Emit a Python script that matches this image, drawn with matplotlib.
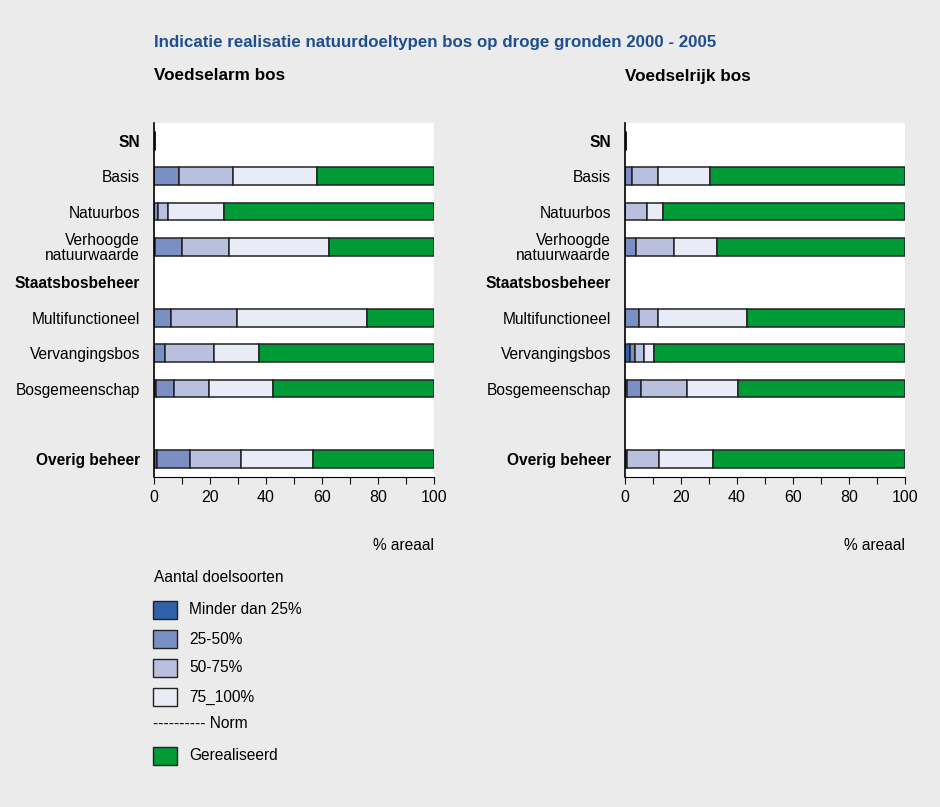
import numpy as np
import matplotlib
matplotlib.use('Agg')
import matplotlib.pyplot as plt
from matplotlib.patches import Rectangle

plt.rcParams['font.family'] = ['Liberation Sans Narrow', 'Liberation Sans', 'DejaVu Sans']

# Data (% areaal)
rows = ['SN', 'Basis', 'Natuurbos', 'Verhoogde\nnatuurwaarde', 'Staatsbosbeheer',
        'Multifunctioneel', 'Vervangingsbos', 'Bosgemeenschap', '', 'Overig beheer']
bold_rows = ['SN', 'Staatsbosbeheer', 'Overig beheer']
bar_rows = [0, 1, 2, 3, 5, 6, 7, 9]   # rows that carry a bar

categories = ['Minder dan 25%', '25-50%', '50-75%', '75_100%', 'Gerealiseerd']

# Voedselarm bos
arm_lt25 = [0.3, 0, 0, 0.5, 0, 0, 0.8, 1.2]
arm_25_50 = [0, 9.0, 1.5, 9.4, 6.1, 4.0, 6.3, 11.7]
arm_50_75 = [0, 19.1, 3.4, 17.0, 23.4, 17.3, 12.7, 18.2]
arm_75_100 = [0, 30.0, 20.2, 35.6, 46.7, 16.2, 22.8, 25.8]
arm_real = [0, 41.9, 74.9, 37.5, 23.8, 62.5, 57.4, 43.1]

# Voedselrijk bos
rijk_lt25 = [0.3, 0, 0, 0, 0, 1.8, 0.8, 0.6]
rijk_25_50 = [0, 2.5, 0, 4.0, 4.9, 1.7, 4.8, 0]
rijk_50_75 = [0, 9.2, 8.0, 13.4, 7.0, 3.3, 16.4, 11.5]
rijk_75_100 = [0, 18.5, 5.6, 15.3, 31.8, 3.4, 18.5, 19.3]
rijk_real = [0, 69.8, 86.4, 67.3, 56.3, 89.8, 59.5, 68.6]

colors = ['#2f62a8', '#7a8fc4', '#b9c0df', '#e9ecf6', '#009a36']
bg = '#ebebeb'
edge = '#222222'
fs = 11.2

fig = plt.figure(figsize=(9.4, 8.07), dpi=100, facecolor=bg)


def draw_panel(left, series, subtitle):
    ax = fig.add_axes([left / 940, 1 - 477 / 807, 280 / 940, 354 / 807])
    ax.set_facecolor('white')
    base = np.zeros(len(bar_rows))
    for vals, col in zip(series, colors):
        vals = np.array(vals)
        ax.barh(bar_rows, vals, left=base, height=0.5, color=col,
                edgecolor=edge, linewidth=1.1)
        base = base + vals
    ax.set_ylim(9.5, -0.5)
    ax.set_xlim(0, 100)
    ax.set_yticks(range(len(rows)))
    ax.set_yticklabels(rows, fontsize=fs, linespacing=0.95)
    for lbl in ax.get_yticklabels():
        if lbl.get_text() in bold_rows:
            lbl.set_fontweight('bold')
    ax.tick_params(axis='y', length=0, pad=10)
    ax.set_xticks(range(0, 101, 20))
    ax.set_xticks(range(10, 100, 20), minor=True)
    ax.tick_params(axis='x', which='both', direction='out', length=5,
                   width=0.8, labelsize=fs + 0.3, pad=4)
    for s in ['top', 'right']:
        ax.spines[s].set_visible(False)
    ax.spines['left'].set_linewidth(1.2)
    ax.spines['bottom'].set_linewidth(0.8)
    fig.text((left + 280) / 940, 1 - 545 / 807, '% areaal', ha='right',
             va='center', fontsize=fs)
    fig.text(left / 940, 1 - 76 / 807, subtitle, ha='left', va='center',
             fontsize=12.3, fontweight='bold')
    return ax


draw_panel(154, [arm_lt25, arm_25_50, arm_50_75, arm_75_100, arm_real], 'Voedselarm bos')
draw_panel(625, [rijk_lt25, rijk_25_50, rijk_50_75, rijk_75_100, rijk_real], 'Voedselrijk bos')

fig.text(154 / 940, 1 - 42 / 807,
         'Indicatie realisatie natuurdoeltypen bos op droge gronden 2000 - 2005',
         ha='left', va='center', fontsize=12.2, fontweight='bold', color='#1f4f8f')

# Legend
fig.text(154 / 940, 1 - 577 / 807, 'Aantal doelsoorten', ha='left', va='center', fontsize=fs)
legend_y = [610, 639, 668, 697, None, 756]
legend_items = categories[:4] + ['Norm'] + categories[4:]
ci = 0
for y, name in zip(legend_y, legend_items):
    if y is None:
        fig.text(153 / 940, 1 - 723 / 807, '---------- Norm', ha='left', va='center',
                 fontsize=fs)
        continue
    fig.add_artist(Rectangle((153 / 940, 1 - (y + 9) / 807), 24 / 940, 18 / 807,
                             transform=fig.transFigure, facecolor=colors[ci],
                             edgecolor=edge, linewidth=1.0))
    fig.text(189 / 940, 1 - y / 807, name, ha='left', va='center', fontsize=fs)
    ci += 1

plt.savefig('out.png', dpi=100, facecolor=bg)
